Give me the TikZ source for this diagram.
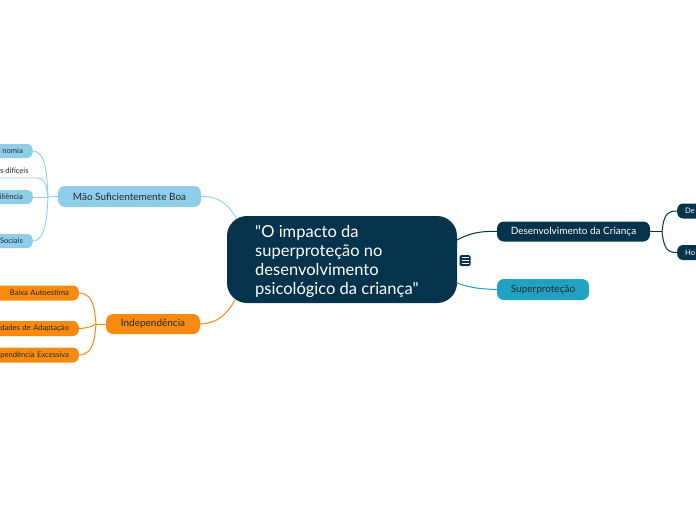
\documentclass[tikz,border=0pt]{standalone}
\usepackage{fontspec}
\setmainfont{Lato}[Ligatures=TeXOff]
\definecolor{cdark}{HTML}{05334B}
\definecolor{clight}{HTML}{90CDE8}
\definecolor{corange}{HTML}{F98A10}
\definecolor{cteal}{HTML}{22A2C3}
\definecolor{ctext}{HTML}{1E2A33}
\begin{document}
\begin{tikzpicture}[x=1pt,y=-1pt,
  base/.style={rounded corners=7pt,inner sep=0pt,font=\fontsize{10}{11}\selectfont},
  mainbox/.style={base,fill=cdark,text=white},
  lightbox/.style={base,fill=clight,text=ctext},
  orangebox/.style={base,fill=corange,text=ctext},
  tealbox/.style={base,fill=cteal,text=ctext},
  small/.style={rounded corners=6pt,inner sep=0pt,font=\fontsize{7.6}{8}\selectfont},
  lconn/.style={draw=clight,line width=0.9pt},
  oconn/.style={draw=corange,line width=1pt},
  dconn/.style={draw=cdark,line width=1pt},
  tconn/.style={draw=cteal,line width=1pt}]
\useasboundingbox (0,0) rectangle (696,520);
\clip (0,0) rectangle (696,520);
\fill[white] (0,0) rectangle (696,520);

% central
\node[fill=cdark,rounded corners=20pt,minimum width=230pt,minimum height=87pt,inner sep=0pt] (c) at (342,259.5) {};
\node[anchor=north west,text=white,align=left,inner sep=0pt,font=\fontsize{16.5}{19}\selectfont] (ct) at (255,225) {"O impacto da\\superproteção no\\desenvolvimento\\psicológico da criança"};
\node[fill=cdark,rounded corners=1.5pt,minimum width=11pt,minimum height=11pt,inner sep=0pt] (icon) at (465,260.5) {};
\draw[white,line width=0.8pt] (461.5,257.5) -- (468.5,257.5) (461.5,260.5) -- (468.5,260.5) (461.5,263.5) -- (468.5,263.5);

% level 1
\node[lightbox,minimum width=143pt,minimum height=21pt] (mao) at (129.5,196.5) {Mão Suficientemente Boa};
\node[orangebox,minimum width=94pt,minimum height=20pt] (ind) at (153,324) {Independência};
\node[mainbox,minimum width=153pt,minimum height=20pt] (dev) at (573.5,231.5) {Desenvolvimento da Criança};
\node[tealbox,minimum width=92pt,minimum height=21pt] (sup) at (543,289.5) {Superproteção};

\draw[lconn] (mao.east) .. controls (222,196) and (230,208) .. (237,219);
\draw[oconn] (ind.east) .. controls (220,323) and (228,312) .. (235,300);
\draw[dconn] (457,240) .. controls (470,233) and (480,231) .. (dev.west);
\draw[tconn] (457,283) .. controls (470,288) and (482,289) .. (sup.west);

% left children of mao
\node[small,fill=clight,text=ctext,minimum width=60pt,minimum height=14pt,text width=40pt,align=right,anchor=east] (auto) at (33,151) {nomia};
\node[small,fill=clight,text=ctext,minimum width=60pt,minimum height=14pt,text width=40pt,align=right,anchor=east] (res) at (33,197) {iliência};
\node[small,fill=clight,text=ctext,minimum width=60pt,minimum height=14pt,text width=40pt,align=right,anchor=east] (soc) at (33,241) {Sociais};
\node[inner sep=0pt,anchor=south west,text=ctext,font=\fontsize{7.6}{8}\selectfont] (dif) at (0,174) {s difíceis};
\coordinate (difend) at (38,178);
\coordinate (jm) at (48,197);
\draw[lconn] (mao.west) -- (jm);
\draw[lconn] (auto.east) .. controls (46,151) and (47,175) .. (jm);
\draw[lconn] (0,178) -- (difend) .. controls (46,178) and (47,190) .. (jm);
\draw[lconn] (res.east) -- (jm);
\draw[lconn] (soc.east) .. controls (46,241) and (47,215) .. (jm);

% children of independencia
\node[small,fill=corange,text=ctext,minimum width=100pt,minimum height=15pt,text width=80pt,align=right,anchor=east] (baixa) at (79,293) {Baixa Autoestima};
\node[small,fill=corange,text=ctext,minimum width=100pt,minimum height=15pt,text width=80pt,align=right,anchor=east] (adap) at (79,328.5) {ldades de Adaptação};
\node[small,fill=corange,text=ctext,minimum width=100pt,minimum height=15pt,text width=80pt,align=right,anchor=east] (depe) at (79,355) {pendência Excessiva};
\coordinate (ji) at (96,324);
\draw[oconn] (ind.west) -- (ji);
\draw[oconn] (baixa.east) .. controls (95,293) and (95,315) .. (ji);
\draw[oconn] (adap.east) .. controls (90,328) and (94,325) .. (ji);
\draw[oconn] (depe.east) .. controls (95,355) and (95,333) .. (ji);

% children of desenvolvimento
\node[small,fill=cdark,text=white,minimum width=60pt,minimum height=15pt,text width=44pt,align=left,anchor=west] (de) at (677,211) {De};
\node[small,fill=cdark,text=white,minimum width=60pt,minimum height=15pt,text width=44pt,align=left,anchor=west] (ho) at (677,252.5) {Ho};
\coordinate (jd) at (662,231.5);
\draw[dconn] (dev.east) -- (jd);
\draw[dconn] (jd) .. controls (664,213) and (668,211) .. (de.west);
\draw[dconn] (jd) .. controls (664,250) and (668,252.5) .. (ho.west);
\end{tikzpicture}
\end{document}
